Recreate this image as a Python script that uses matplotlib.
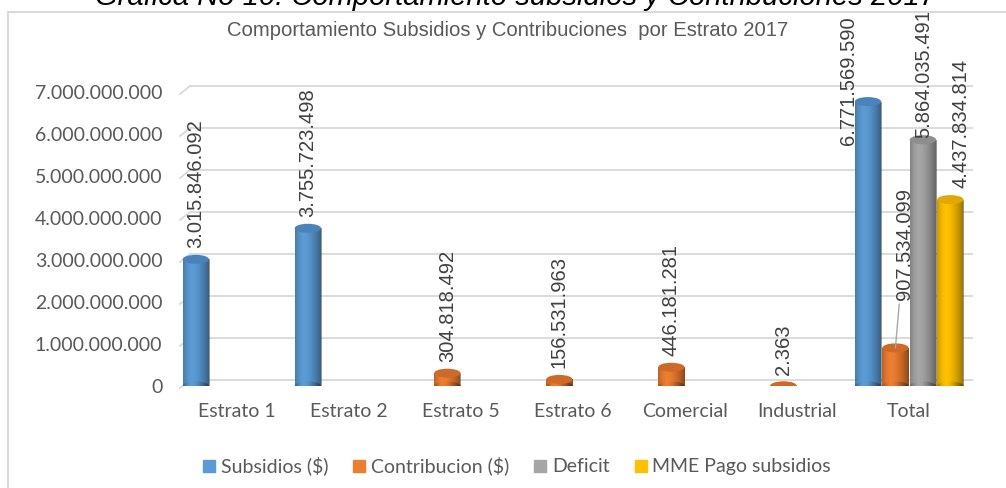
import numpy as np
import matplotlib
matplotlib.use('Agg')
import matplotlib.pyplot as plt
from matplotlib.patches import Ellipse, Rectangle
from matplotlib.lines import Line2D

categories = ['Estrato 1', 'Estrato 2', 'Estrato 5', 'Estrato 6', 'Comercial', 'Industrial', 'Total']
subsidios = [3015846092, 3755723498, None, None, None, None, 6771569590]
contribucion = [None, None, 304818492, 156531963, 446181281, 2363, 907534099]
deficit = [None, None, None, None, None, None, 5864035491]
mme_pago = [None, None, None, None, None, None, 4437834814]
series_names = ['Subsidios ($)', 'Contribucion ($)', 'Deficit', 'MME Pago subsidios']
y_ticks = [0, 1e9, 2e9, 3e9, 4e9, 5e9, 6e9, 7e9]

caption = 'Gráfica No 10. Comportamiento subsidios y Contribuciones 2017'
title = 'Comportamiento Subsidios y Contribuciones  por Estrato 2017'

colors = ['#5B9BD5', '#ED7D31', '#A5A5A5', '#FFC000']
cap_colors = ['#4A82BC', '#CF6A26', '#8E8E8E', '#E0A800']
TXT = '#595959'
LBL = '#404040'
GRID = '#D9D9D9'
UI_FONT = ['Lato', 'DejaVu Sans']
ARIAL = ['Liberation Sans', 'DejaVu Sans']


def fmt(v):
    return f'{int(v):,}'.replace(',', '.')


W, H = 1006, 488
fig = plt.figure(figsize=(W / 100, H / 100), dpi=100)
ax_l, ax_r, ax_b, ax_t = 181, 973, 386, 92
ax = fig.add_axes([ax_l / W, (H - ax_b) / H, (ax_r - ax_l) / W, (ax_b - ax_t) / H])
XMIN, XMAX = -0.5, 6.57
YMAX = 7e9
px_x = (ax_r - ax_l) / (XMAX - XMIN)
px_y = (ax_b - ax_t) / YMAX

# 3D-ish gridlines: back wall lines plus a short diagonal stub on the left
back_dy = 6 / px_y
x_back = XMIN + 9 / px_x
for t in y_ticks:
    ax.plot([x_back, XMAX], [t + back_dy, t + back_dy], color=GRID, lw=1.3,
            zorder=1, clip_on=False, solid_capstyle='butt')
    ax.plot([XMIN - 1 / px_x, x_back], [t - 2 / px_y, t + back_dy], color=GRID,
            lw=1.3, zorder=1, clip_on=False)


def shade(ax, patch, extent, z):
    u = np.linspace(0, 1, 80)
    a = np.where(u > 0.35, 0.42 * ((u - 0.35) / 0.65) ** 1.6,
                 0.22 * ((0.35 - u) / 0.35) ** 2)
    rgba = np.zeros((1, 80, 4))
    rgba[..., 3] = a
    im = ax.imshow(rgba, extent=extent, aspect='auto', origin='lower',
                   interpolation='bilinear', zorder=z)
    im.set_clip_path(patch)


def cylinder(ax, xc, v, w, color, cap, z):
    eh = 9 / px_y
    body = Rectangle((xc - w / 2, 0), w, v, facecolor=color, edgecolor='none', zorder=z)
    base = Ellipse((xc, 0), w, eh, facecolor=color, edgecolor='none', zorder=z)
    ax.add_patch(body)
    ax.add_patch(base)
    shade(ax, body, [xc - w / 2, xc + w / 2, 0, v], z + 0.001)
    shade(ax, base, [xc - w / 2, xc + w / 2, -eh / 2, eh / 2], z + 0.001)
    ax.add_patch(Ellipse((xc, v), w, eh, facecolor=cap, edgecolor='none', zorder=z + 0.002))


slot = 0.245
bar_w = 0.235
series = [subsidios, contribucion, deficit, mme_pago]
# label offsets in pixels (dx, dy) for the Total group, where Excel moved them
total_offsets = [(-19, -43), (9, 48), (1, 2), (11, 12)]
for k, vals in enumerate(series):
    for i, v in enumerate(vals):
        if v is None:
            continue
        xc = i + (k - 1.5) * slot
        cylinder(ax, xc, v, bar_w, colors[k], cap_colors[k], 3 + 0.01 * (i * 4 + k))
        dx, dy = (0, 11)
        arrow = None
        if categories[i] == 'Total':
            dx, dy = total_offsets[k]
            if k == 1:
                arrow = dict(arrowstyle='-', color='#A6A6A6', lw=1, shrinkA=1, shrinkB=0)
        ax.annotate(fmt(v), xy=(xc, v), xytext=(dx * 0.72, dy * 0.72),
                    textcoords='offset points', rotation=90, ha='center', va='bottom',
                    fontsize=14.5, family=ARIAL, color=LBL, zorder=10,
                    annotation_clip=False, arrowprops=arrow)

ax.set_xlim(XMIN, XMAX)
ax.set_ylim(0, YMAX)
ax.set_yticks(y_ticks)
ax.set_yticklabels([fmt(t) for t in y_ticks], family=UI_FONT, fontsize=14, color=TXT)
ax.set_xticks(range(len(categories)))
ax.set_xticklabels(categories, family=UI_FONT, fontsize=14, color=TXT)
ax.tick_params(axis='y', length=0, pad=13.5)
ax.tick_params(axis='x', length=0, pad=12)
for s in ax.spines.values():
    s.set_visible(False)
ax.set_facecolor('none')

# chart area border (runs off the right and bottom edges in the source)
fig.add_artist(Rectangle((8 / W, -0.05), 1.0, (H - 12) / H + 0.05,
                         transform=fig.transFigure, fill=False,
                         edgecolor=GRID, lw=1.4))
fig.text(508 / W, 1 - 30 / H, title, ha='center', va='center',
         fontsize=14.6, color=TXT, family=ARIAL)
fig.text(95 / W, 1 - 5 / H, caption, ha='left', va='baseline',
         fontsize=21, style='italic', color='black', family=ARIAL)

handles = [Line2D([], [], marker='s', linestyle='', color=c, markersize=8) for c in colors]
fig.legend(handles, series_names, loc='center', bbox_to_anchor=(517 / W, 1 - 466 / H),
           ncol=4, frameon=False, handlelength=0.6, handletextpad=0.3,
           columnspacing=1.3, prop={'family': UI_FONT, 'size': 14}, labelcolor=TXT)

fig.savefig('out.png', dpi=100)
